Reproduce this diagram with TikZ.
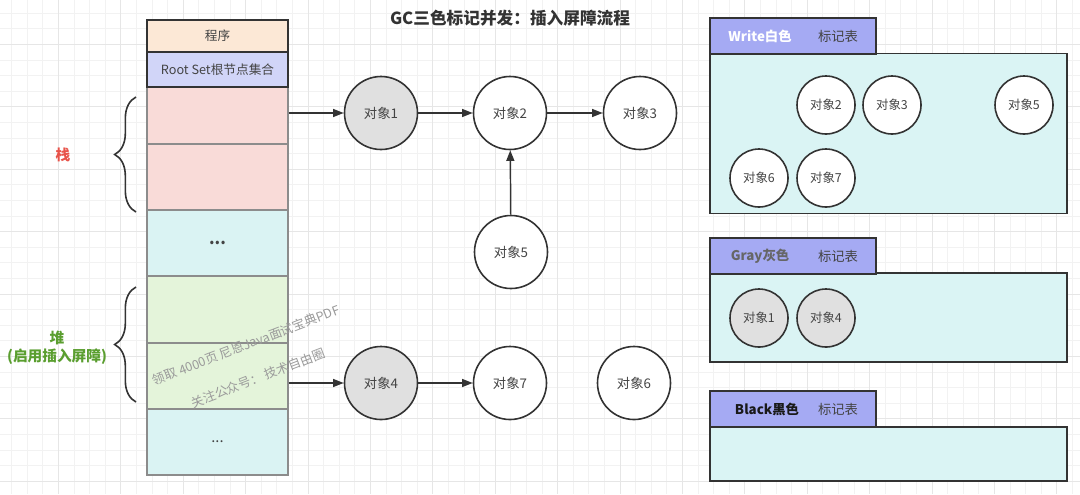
\documentclass[tikz,border=0pt]{standalone}
\usepackage{fontspec}
\setmainfont{Noto Sans CJK SC}
\usetikzlibrary{arrows.meta,decorations.pathreplacing,calc}
\definecolor{gridminor}{HTML}{F2F2F2}
\definecolor{gridmajor}{HTML}{E6E6E6}
\definecolor{peach}{HTML}{FCE8D6}
\definecolor{lav}{HTML}{D1D5F8}
\definecolor{pinkc}{HTML}{F9DBD8}
\definecolor{cyanc}{HTML}{DAF3F3}
\definecolor{greenc}{HTML}{E4F4DA}
\definecolor{tabc}{HTML}{A5AAF3}
\definecolor{bodyc}{HTML}{DAF4F4}
\definecolor{grayfill}{HTML}{E0E0E0}
\definecolor{dark}{HTML}{333333}
\definecolor{txt}{HTML}{444444}
\definecolor{redl}{HTML}{E8534A}
\definecolor{greenl}{HTML}{5A9E2F}
\definecolor{wm}{HTML}{9A9A9A}
\def\u{0.75pt}
\begin{document}
\begin{tikzpicture}[x=0.75pt,y=-0.75pt,
  cell/.style={draw=black!45, line width=0.8pt, minimum width=141*\u, inner sep=0pt, text=txt, font=\fontsize{9.5}{11}\selectfont},
  topcell/.style={cell, draw=dark, line width=1.2pt},
  obj/.style={circle, draw=dark, line width=1.2pt, fill=white, minimum size=73*\u, inner sep=0pt, text=txt, font=\fontsize{10}{12}\selectfont},
  gobj/.style={obj, fill=grayfill},
  sobj/.style={obj, minimum size=58*\u, font=\fontsize{9.3}{11}\selectfont},
  sgobj/.style={sobj, fill=grayfill},
  arr/.style={-{Triangle[length=8pt,width=6pt]}, draw=dark, line width=1.1pt},
  panel/.style={draw=dark, line width=1.2pt, fill=bodyc, inner sep=0pt},
  tab/.style={draw=dark, line width=1.2pt, fill=tabc, inner sep=0pt, minimum width=166*\u, minimum height=36*\u},
  tabl/.style={font=\bfseries\fontsize{10}{12}\selectfont, inner sep=0pt},
  tabr/.style={font=\fontsize{10}{12}\selectfont, text=txt, inner sep=0pt},
  bracest/.style={draw=dark, line width=1.2pt, decorate, decoration={brace, amplitude=16pt}},
  wmark/.style={text=wm, font=\fontsize{9.5}{11}\selectfont, rotate=21, inner sep=0pt}
]
\useasboundingbox (0,0) rectangle (1080,494);
\fill[white] (0,0) rectangle (1080,494);
% grid
\foreach \k in {0,...,68} {\pgfmathsetmacro\xx{11.7+15.6*\k}\draw[gridminor, line width=0.75pt] (\xx,0) -- (\xx,494);}
\foreach \k in {0,...,31} {\pgfmathsetmacro\yy{13.3+15.6*\k}\draw[gridminor, line width=0.75pt] (0,\yy) -- (1080,\yy);}
\foreach \k in {3,7,...,67} {\pgfmathsetmacro\xx{11.7+15.6*\k}\draw[gridmajor, line width=0.75pt] (\xx,0) -- (\xx,494);}
\foreach \k in {2,6,...,30} {\pgfmathsetmacro\yy{13.3+15.6*\k}\draw[gridmajor, line width=0.75pt] (0,\yy) -- (1080,\yy);}

% title
\node[font=\bfseries\fontsize{12.5}{14}\selectfont, text=dark] (title) at (510,18) {GC三色标记并发：插入屏障流程};

% left column
\node[cell, fill=pinkc, minimum height=57*\u] (st1) at (217.5,115.5) {};
\node[cell, fill=pinkc, minimum height=66*\u] (st2) at (217.5,177) {};
\node[cell, fill=cyanc, minimum height=66*\u, font=\bfseries\fontsize{12}{12}\selectfont] (d1) at (217.5,243) {...};
\node[cell, fill=greenc, minimum height=67*\u] (h1) at (217.5,309.5) {};
\node[cell, fill=greenc, minimum height=66*\u] (h2) at (217.5,376) {};
\node[cell, fill=cyanc, minimum height=66*\u, font=\fontsize{11}{12}\selectfont] (d2) at (217.5,442) {...};
\node[topcell, fill=peach, minimum height=32*\u] (prog) at (217.5,36) {程序};
\node[topcell, fill=lav, minimum height=35*\u] (root) at (217.5,69.5) {Root Set根节点集合};

% braces
\coordinate (bs1) at (136,212);
\coordinate (bs2) at (136,97);
\coordinate (bh1) at (136,402);
\coordinate (bh2) at (136,287);
\draw[bracest] (bs1) -- (bs2);
\draw[bracest] (bh1) -- (bh2);
\node[font=\bfseries\fontsize{11}{12}\selectfont, text=redl] (lstack) at (63,155) {栈};
\node[font=\bfseries\fontsize{11}{13.5}\selectfont, text=greenl, align=center] (lheap) at (57,348) {堆\\(启用插入屏障)};

% watermark
\node[wmark] (wm1) at (246,345) {领取 4000页 尼恩Java面试宝典PDF};
\node[wmark] (wm2) at (258,378) {关注公众号： 技术自由圈};

% objects
\node[gobj] (o1) at (381,113) {对象1};
\node[obj] (o2) at (510,113) {对象2};
\node[obj] (o3) at (640,113) {对象3};
\node[obj] (o5) at (511,252) {对象5};
\node[gobj] (o4) at (381,383) {对象4};
\node[obj] (o7) at (510,383) {对象7};
\node[obj] (o6) at (634,383) {对象6};

\draw[arr] (st1.east |- o1) -- (o1);
\draw[arr] (o1) -- (o2);
\draw[arr] (o2) -- (o3);
\draw[arr] (o5) -- (o2);
\draw[arr] (h2.east |- o4) -- (o4);
\draw[arr] (o4) -- (o7);

% panels
\node[panel, minimum width=357*\u, minimum height=160*\u] (pw) at (888.5,133.5) {};
\node[tab] (tw) at (793,36) {};
\node[tabl, text=white] (twl) at (760,36) {Write白色};
\node[tabr] (twr) at (838,36) {标记表};
\node[sobj] (w2) at (826,105) {对象2};
\node[sobj] (w3) at (892,105) {对象3};
\node[sobj] (w5) at (1024,105) {对象5};
\node[sobj] (w6) at (759,178) {对象6};
\node[sobj] (w7) at (826,178) {对象7};

\node[panel, minimum width=357*\u, minimum height=89*\u] (pg) at (888.5,317.5) {};
\node[tab] (tg) at (793,256) {};
\node[tabl, text=black!60] (tgl) at (760,256) {Gray灰色};
\node[tabr] (tgr) at (838,256) {标记表};
\node[sgobj] (g1) at (759,318) {对象1};
\node[sgobj] (g4) at (826,318) {对象4};

\node[panel, minimum width=357*\u, minimum height=54*\u] (pb) at (888.5,454) {};
\node[tab] (tb) at (793,409) {};
\node[tabl, text=black!90] (tbl) at (767,409) {Black黑色};
\node[tabr] (tbr) at (838,409) {标记表};
\end{tikzpicture}
\end{document}
